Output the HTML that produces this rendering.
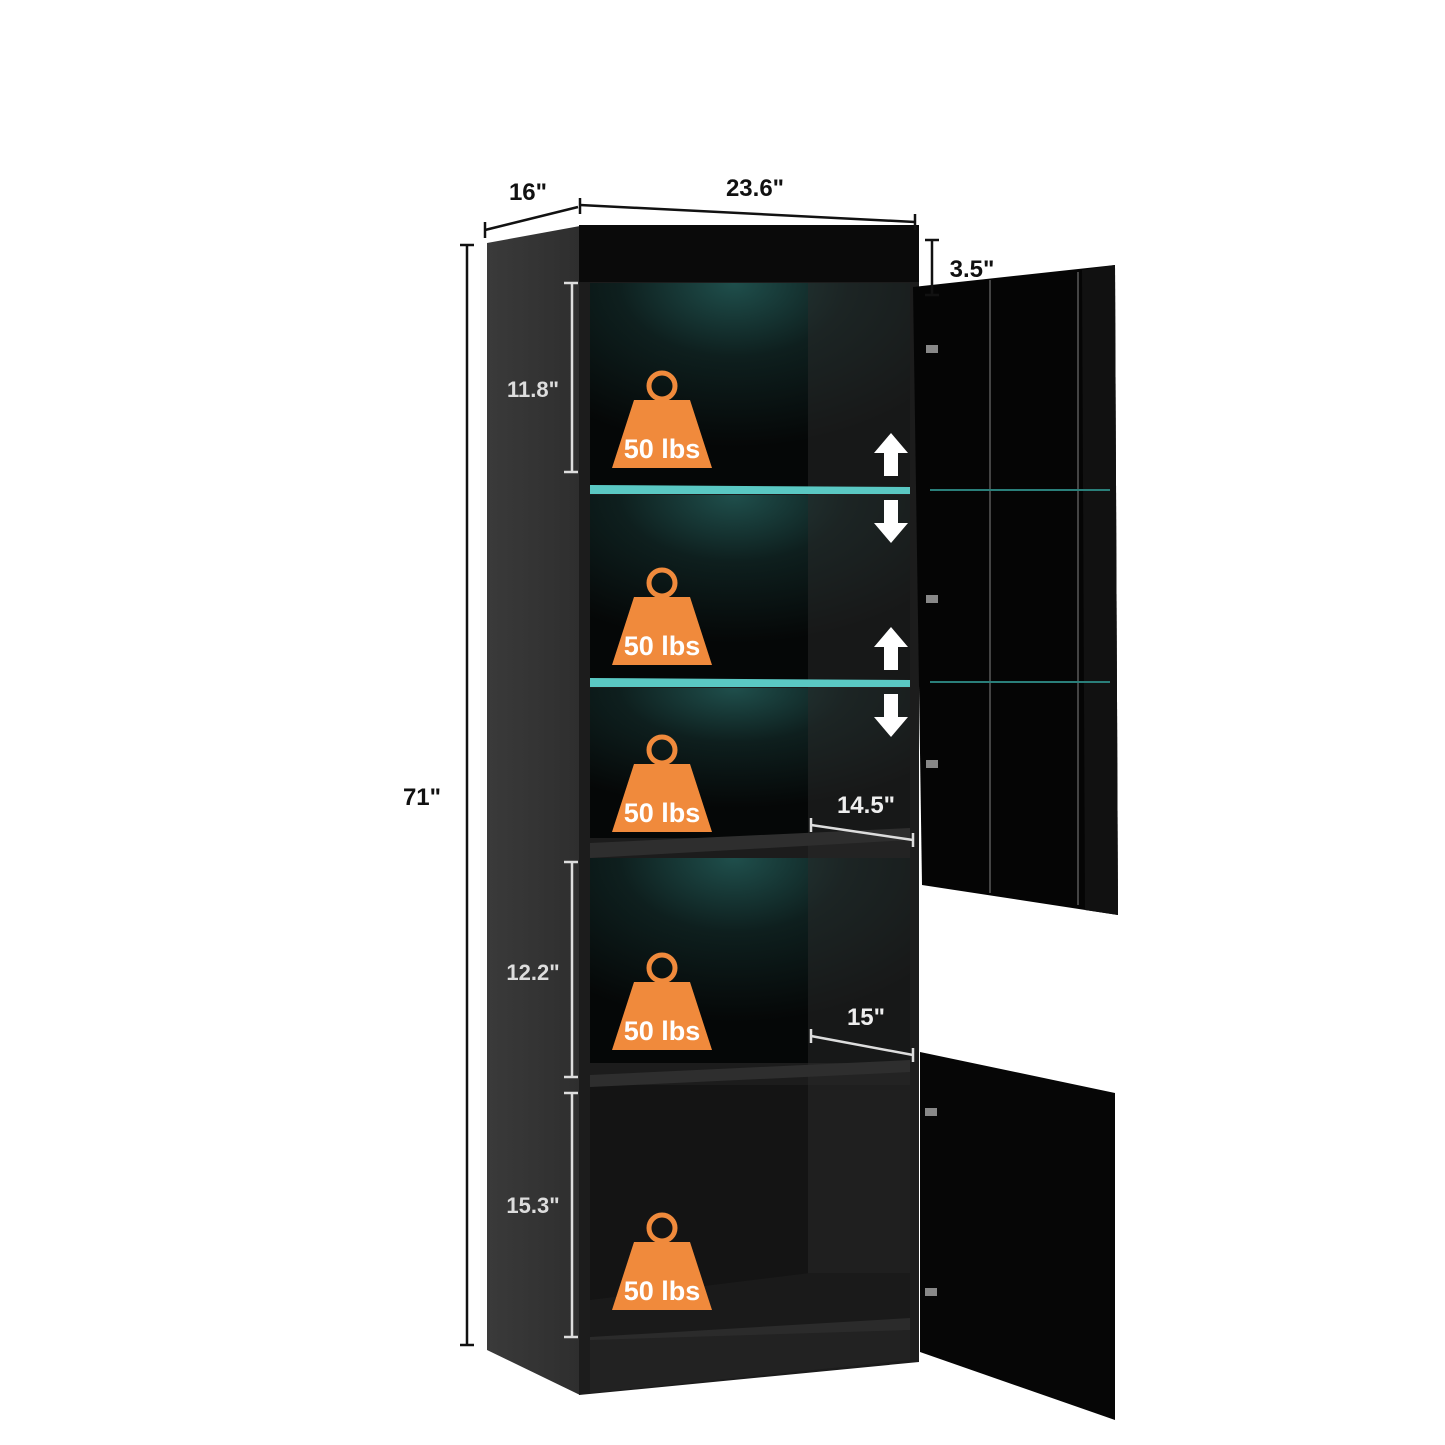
<!DOCTYPE html>
<html><head><meta charset="utf-8"><style>
html,body{margin:0;padding:0;background:#fff;}
svg{display:block}
text{font-family:"Liberation Sans",sans-serif;font-weight:bold;}
</style></head><body>
<svg width="1445" height="1445" viewBox="0 0 1445 1445" xmlns="http://www.w3.org/2000/svg">
<defs>
<radialGradient id="glow" cx="0.45" cy="0" r="0.8">
<stop offset="0" stop-color="#1f4f4c"/><stop offset="0.45" stop-color="#0e1f1e"/><stop offset="1" stop-color="#050707"/>
</radialGradient>
<linearGradient id="side" x1="0" x2="1"><stop offset="0" stop-color="#3a3a3a"/><stop offset="1" stop-color="#2e2e2e"/></linearGradient>
<g id="wt">
<circle cx="0" cy="-62" r="13" fill="none" stroke="#f08a3c" stroke-width="5"/>
<path d="M-28,-48 L28,-48 L50,20 L-50,20 Z" fill="#f08a3c"/>
<text x="0" y="10" text-anchor="middle" font-size="27" fill="#fff">50 lbs</text>
</g>
<g id="arr" fill="#fff">
<path d="M0,-55 L-17,-35 L-7,-35 L-7,-12 L7,-12 L7,-35 L17,-35 Z"/>
<path d="M0,55 L-17,35 L-7,35 L-7,12 L7,12 L7,35 L17,35 Z"/>
</g>
</defs>
<polygon points="487,243 580,226 580,1395 487,1350" fill="url(#side)"/>
<polygon points="579,225 919,225 919,1362 579,1395" fill="#1c1c1c"/>
<rect x="579" y="225" width="340" height="57" fill="#0a0a0a"/>
<rect x="590" y="283" width="320" height="205" fill="url(#glow)"/>
<rect x="590" y="495" width="320" height="185" fill="url(#glow)"/>
<rect x="590" y="688" width="320" height="150" fill="url(#glow)"/>
<rect x="590" y="858" width="320" height="205" fill="url(#glow)"/>
<rect x="590" y="1085" width="320" height="252" fill="#141414"/>
<rect x="808" y="283" width="102" height="1050" fill="#2a2a2a" opacity="0.5"/>
<polygon points="590,1337 590,1300 810,1273 910,1273 910,1330" fill="#1a1a1a"/>
<polygon points="590,1337 910,1318 910,1330 590,1348" fill="#2b2b2b"/>
<polygon points="590,1340 910,1330 910,1360 590,1393" fill="#222"/>
<polygon points="590,485 910,487 910,494 590,494" fill="#5ac8c3"/>
<polygon points="590,678 910,680 910,687 590,687" fill="#5ac8c3"/>
<polygon points="590,843 910,828 910,840 590,858" fill="#2e2e2e"/>
<polygon points="590,1075 910,1060 910,1072 590,1087" fill="#2e2e2e"/>
<polygon points="913,287 1115,265 1118,915 922,885" fill="#050505"/>
<polygon points="1082,270 1115,265 1118,915 1085,910" fill="#111"/>
<line x1="990" y1="280" x2="990" y2="893" stroke="#444" stroke-width="2"/>
<line x1="1078" y1="272" x2="1078" y2="905" stroke="#444" stroke-width="2"/>
<line x1="930" y1="682" x2="1110" y2="682" stroke="#2a7f7a" stroke-width="2"/>
<line x1="930" y1="490" x2="1110" y2="490" stroke="#2a7f7a" stroke-width="2"/>
<g fill="#888"><rect x="926" y="345" width="12" height="8"/><rect x="926" y="595" width="12" height="8"/><rect x="926" y="760" width="12" height="8"/></g>
<polygon points="920,1052 1115,1093 1115,1420 920,1352" fill="#060606"/>
<g fill="#888"><rect x="925" y="1108" width="12" height="8"/><rect x="925" y="1288" width="12" height="8"/></g>
<use href="#wt" x="662" y="448"/>
<use href="#wt" x="662" y="645"/>
<use href="#wt" x="662" y="812"/>
<use href="#wt" x="662" y="1030"/>
<use href="#wt" x="662" y="1290"/>
<use href="#arr" x="891" y="488"/>
<use href="#arr" x="891" y="682"/>
<g stroke="#111" stroke-width="2.5" fill="none">
<line x1="467" y1="245" x2="467" y2="1345"/><line x1="460" y1="245" x2="474" y2="245"/><line x1="460" y1="1345" x2="474" y2="1345"/>
<line x1="485" y1="230" x2="578" y2="207"/><line x1="485" y1="222" x2="485" y2="238"/>
<line x1="580" y1="205" x2="915" y2="222"/><line x1="580" y1="198" x2="580" y2="214"/><line x1="915" y1="214" x2="915" y2="230"/>
<line x1="932" y1="240" x2="932" y2="295"/><line x1="925" y1="240" x2="939" y2="240"/><line x1="925" y1="295" x2="939" y2="295"/>
</g>
<g stroke="#ddd" stroke-width="2.5" fill="none">
<line x1="572" y1="283" x2="572" y2="472"/><line x1="564" y1="283" x2="578" y2="283"/><line x1="564" y1="472" x2="578" y2="472"/>
<line x1="572" y1="862" x2="572" y2="1077"/><line x1="564" y1="862" x2="578" y2="862"/><line x1="564" y1="1077" x2="578" y2="1077"/>
<line x1="572" y1="1093" x2="572" y2="1337"/><line x1="564" y1="1093" x2="578" y2="1093"/><line x1="564" y1="1337" x2="578" y2="1337"/>
<line x1="811" y1="825" x2="913" y2="840"/><line x1="811" y1="818" x2="811" y2="832"/><line x1="913" y1="833" x2="913" y2="847"/>
<line x1="811" y1="1036" x2="913" y2="1055"/><line x1="811" y1="1029" x2="811" y2="1043"/><line x1="913" y1="1048" x2="913" y2="1062"/>
</g>
<text x="528" y="200" text-anchor="middle" font-size="24" fill="#111">16"</text>
<text x="755" y="196" text-anchor="middle" font-size="24" fill="#111">23.6"</text>
<text x="972" y="277" text-anchor="middle" font-size="24" fill="#111">3.5"</text>
<text x="422" y="805" text-anchor="middle" font-size="24" fill="#111">71"</text>
<text x="533" y="397" text-anchor="middle" font-size="22" fill="#ddd">11.8"</text>
<text x="533" y="980" text-anchor="middle" font-size="22" fill="#ddd">12.2"</text>
<text x="533" y="1213" text-anchor="middle" font-size="22" fill="#ddd">15.3"</text>
<text x="866" y="813" text-anchor="middle" font-size="24" fill="#eee">14.5"</text>
<text x="866" y="1025" text-anchor="middle" font-size="24" fill="#eee">15"</text>
</svg>
</body></html>
